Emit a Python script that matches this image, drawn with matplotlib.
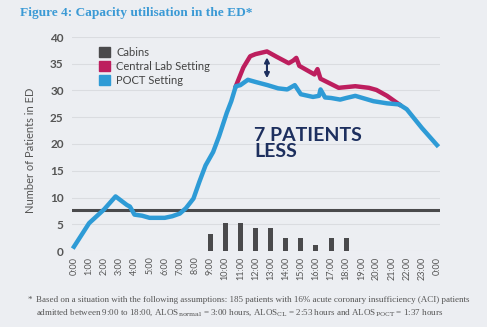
import matplotlib
matplotlib.use("Agg")
import matplotlib.pyplot as plt
from matplotlib.patches import Patch

plt.rcParams["mathtext.fontset"] = "dejavuserif"

# ---- data ----
hour_labels = [f"{h}:00" for h in range(24)] + ["0:00"]
hour_pos = list(range(25))

cabin_hours = [9, 10, 11, 12, 13, 14, 15, 16, 17, 18]
cabin_counts = [3.2, 5.3, 5.3, 4.3, 4.3, 2.5, 2.5, 1.2, 2.5, 2.5]

cabins_level = 7.7

poct_t = [0.0, 1.0, 2.0, 2.75, 3.5, 3.7, 4.0, 4.5, 5.0, 6.0, 6.5, 7.0, 7.4, 7.9,
          8.3, 8.7, 9.2, 9.6, 10.1, 10.4, 10.7, 11.0, 11.5, 12.0, 12.8, 13.5,
          14.1, 14.6, 15.0, 15.8, 16.2, 16.3, 16.6, 17.0, 17.6, 18.0, 18.6,
          19.2, 19.8, 20.7, 21.5, 22.0, 23.0, 24.0]
poct_v = [0.8, 5.2, 7.8, 10.2, 8.6, 8.3, 6.8, 6.6, 6.2, 6.2, 6.5, 7.0, 8.0, 9.8,
          13.0, 16.0, 18.5, 21.5, 25.8, 28.0, 30.8, 31.0, 32.0, 31.6, 31.0, 30.4,
          30.2, 31.0, 29.3, 28.8, 29.0, 30.2, 28.7, 28.6, 28.3, 28.6, 29.0,
          28.5, 28.0, 27.6, 27.4, 26.5, 23.0, 19.8]

central_t = [10.7, 10.9, 11.2, 11.65, 12.0, 12.76, 13.4, 14.2, 14.5, 14.7, 14.9,
             15.9, 16.1, 16.3, 17.5, 18.6, 19.5, 20.0, 20.7, 21.5]
central_v = [30.8, 32.2, 34.3, 36.4, 36.8, 37.3, 36.3, 35.1, 35.6, 36.1, 34.6,
             33.0, 34.0, 32.2, 30.5, 30.8, 30.5, 30.1, 29.0, 27.4]

arrow_x = 12.76
arrow_y = (32.3, 36.2)

BG = "#eceef2"
BLUE = "#2e9bd6"
RED = "#bd1e5e"
GRAY = "#4a4a4c"
NAVY = "#1d2f5e"

fig = plt.figure(figsize=(4.87, 3.27), dpi=100, facecolor=BG)
ax = fig.add_axes([72/487, 1 - 251/327, 368/487, 214/327])
ax.set_facecolor(BG)

ax.set_xlim(-0.13, 24.2)
ax.set_ylim(0, 40)
for s in ax.spines.values():
    s.set_visible(False)
ax.set_yticks(range(0, 41, 5))
ax.yaxis.grid(True, color="#dadce0", lw=0.8)
ax.set_axisbelow(True)
ax.tick_params(length=0)
ax.set_yticklabels([str(v) for v in range(0, 41, 5)], fontsize=8.5, fontweight="bold",
                   color="#555555", family="Lato")
ax.tick_params(axis="y", pad=6)
ax.set_xticks(hour_pos)
ax.set_xticklabels(hour_labels, rotation=90, fontsize=6.5, color="#555555", family="Lato")
ax.tick_params(axis="x", pad=4)

ax.bar(cabin_hours, cabin_counts, width=0.33, color=GRAY, label="Cabins", zorder=2)
ax.axhline(cabins_level, color=GRAY, lw=2.2, zorder=2)
ax.plot(central_t, central_v, color=RED, lw=3.2, solid_joinstyle="round",
        label="Central Lab Setting", zorder=3)
ax.plot(poct_t, poct_v, color=BLUE, lw=3.2, solid_joinstyle="round",
        label="POCT Setting", zorder=4, clip_on=False)

ax.annotate("", xy=(arrow_x, arrow_y[1]), xytext=(arrow_x, arrow_y[0]),
            arrowprops=dict(arrowstyle="<|-|>", color=NAVY, lw=1.5,
                            mutation_scale=7, shrinkA=0, shrinkB=0), zorder=5)

ax.text(11.9, 23.2, "7 PATIENTS\nLESS", color=NAVY, fontsize=14, fontweight="bold",
        family="Lato", va="top", ha="left", linespacing=0.95)

handles = [Patch(color=GRAY), Patch(color=RED), Patch(color=BLUE)]
leg = ax.legend(handles, ["Cabins", "Central Lab Setting", "POCT Setting"],
                loc="upper left", bbox_to_anchor=(0.045, 1.0), frameon=False,
                handlelength=1.0, handleheight=1.0, handletextpad=0.6,
                labelspacing=0.25, prop={"family": "Lato", "size": 8})
for t in leg.get_texts():
    t.set_color("#444444")

fig.text(30/487, 1 - 150/327, "Number of Patients in ED", rotation=90, fontsize=8,
         color="#555555", family="Lato", ha="center", va="center")

fig.text(20/487, 1 - 13/327, "Figure 4: Capacity utilisation in the ED*",
         fontsize=9.6, fontweight="bold", color="#3b9ad5", family="Liberation Serif",
         ha="left", va="center")

fn_kw = dict(fontsize=6.5, color="#555555", family="Liberation Serif", ha="left", va="center")
fig.text(28/487, 1 - 300/327, "*", **fn_kw)
fig.text(36/487, 1 - 300/327,
         "Based on a situation with the following assumptions: 185 patients with 16% acute "
         "coronary insufficiency (ACI) patients", **fn_kw)
fig.text(36/487, 1 - 313/327,
         r"admitted between 9:00 to 18:00, ALOS$_{\mathrm{normal}}$ = 3:00 hours, "
         r"ALOS$_{\mathrm{CL}}$ = 2:53 hours and ALOS$_{\mathrm{POCT}}$ = 1:37 hours", **fn_kw)

fig.savefig("out.png", dpi=100, facecolor=BG)
